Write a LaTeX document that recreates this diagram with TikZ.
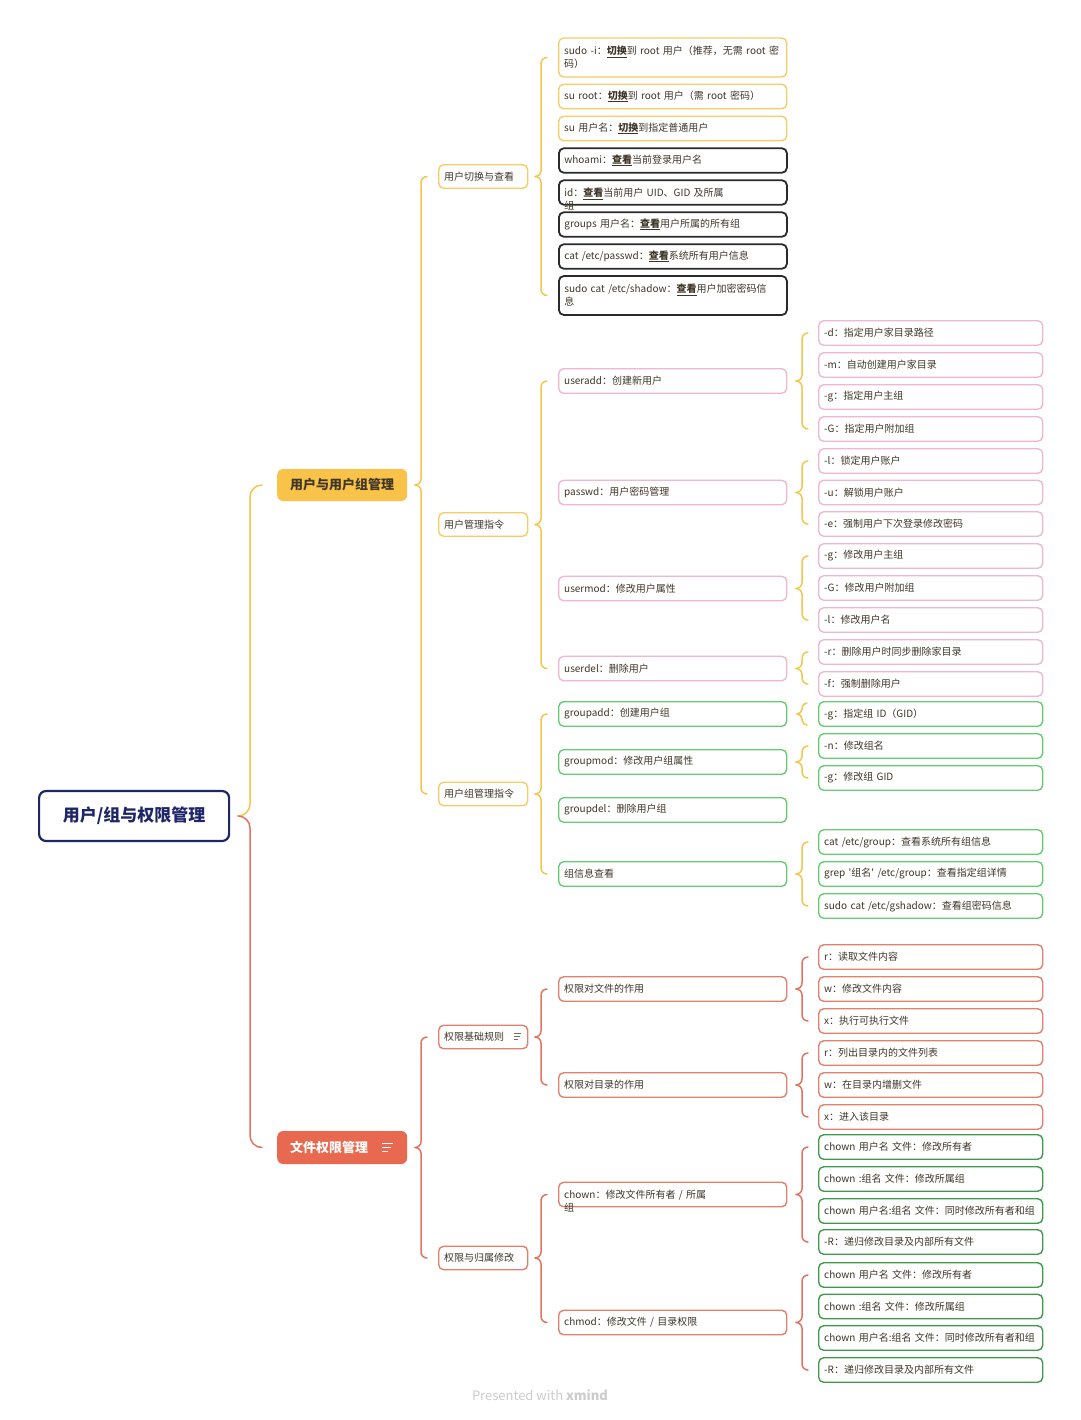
\documentclass[tikz,border=0pt]{standalone}
\usepackage{fontspec}
\setmainfont{Noto Sans CJK SC}
\newfontfamily\nqfont{Noto Sans CJK SC}
\usetikzlibrary{calc}
\definecolor{txt}{HTML}{3F3629}
\definecolor{yelB}{HTML}{F7CC66}
\definecolor{blkB}{HTML}{2A2A2A}
\definecolor{pinkB}{HTML}{F1B6D2}
\definecolor{grnB}{HTML}{66CC74}
\definecolor{redB}{HTML}{E2806E}
\definecolor{dgrnB}{HTML}{3F9A4C}
\definecolor{braceY}{HTML}{F5C54E}
\definecolor{braceR}{HTML}{E37460}
\definecolor{bonefill}{HTML}{F9C248}
\definecolor{btwofill}{HTML}{E8694F}
\definecolor{navy}{HTML}{1F2668}
\definecolor{foot}{HTML}{CCCCCC}
\definecolor{icon}{HTML}{7A6A60}
\newcommand\kw[1]{\underline{\textbf{#1}}}
\newcommand\sq{{\nqfont\char"27}}
\newcommand\ovf[2]{\raisebox{0pt}[\height][0pt]{\parbox[t]{205pt}{#1\\#2}}}
% half brace: parent, child, colour, d, t, r, yoff
\newcommand\bh[7]{%
  \draw[#3,cline,rounded corners=#6] let \p1=(#1.east), \p2=($(#2.west)+(0,#7)$) in
    (\x2-#4-#5,\y1) -- (\x2-#4,\y1) -- (\x2-#4,\y2) -- (\x2-#4+#6,\y2);}
% full brace: parent, top child, bottom child, colour, d, t, r
\newcommand\fb[7]{\bh{#1}{#2}{#4}{#5}{#6}{#7}{0}\bh{#1}{#3}{#4}{#5}{#6}{#7}{0}}
\begin{document}
\begin{tikzpicture}[x=1pt,y=-1pt,
  cline/.style={line width=1.5pt, line cap=round},
  box/.style={draw, fill=white, rounded corners=5pt, anchor=west, align=left,
    inner xsep=5.5pt, inner ysep=2pt, minimum height=24.5pt, text=txt,
    line width=1.4pt, font=\fontsize{10}{13}\selectfont},
  lthree/.style={box, text width=217pt},
  lfour/.style={box, text width=213pt},
  ltwo/.style={box, text width=78pt, minimum height=23.5pt, font=\fontsize{10}{13}\selectfont},
  yl/.style={draw=yelB}, bk/.style={draw=blkB, line width=1.8pt},
  pk/.style={draw=pinkB}, gn/.style={draw=grnB}, rd/.style={draw=redB}, dg/.style={draw=dgrnB},
  twoline/.style={minimum height=39pt},
]
\useasboundingbox (0,0) rectangle (1080,1420);
\fill[white] (0,0) rectangle (1080,1420);

% root and branches
\node[draw=navy, line width=2.2pt, rounded corners=7pt, fill=white, minimum width=190pt,
  minimum height=50pt, anchor=west, text=navy, font=\fontsize{17}{20}\selectfont\bfseries]
  (root) at (38,816) {用户/组与权限管理};
\node[fill=bonefill, rounded corners=6pt, minimum width=130pt, minimum height=32pt, anchor=west,
  text=txt, font=\fontsize{13}{16}\selectfont\bfseries] (b1) at (277,485) {用户与用户组管理};
\node[fill=btwofill, rounded corners=6pt, text width=104pt, inner xsep=13pt, align=left,
  minimum height=33pt, anchor=west, text=white, font=\fontsize{13}{16}\selectfont\bfseries]
  (b2) at (277,1147.5) {文件权限管理};
\draw[white, line width=1pt]
  ($(b2.east)+(-25,-4.5)$) -- ++(11,0)
  ($(b2.east)+(-25,-0.5)$) -- ++(9,0)
  ($(b2.east)+(-25,3.5)$) -- ++(6,0);

% level 2
\node[ltwo,yl] (u1) at (438,176.5) {用户切换与查看};
\node[ltwo,yl] (u2) at (438,524.5) {用户管理指令};
\node[ltwo,yl] (u3) at (438,794) {用户组管理指令};
\node[ltwo,rd] (f1) at (438,1037) {权限基础规则};
\node[ltwo,rd] (f2) at (438,1258) {权限与归属修改};
\draw[icon, line width=0.8pt]
  ($(f1.east)+(-14,-3.5)$) -- ++(7,0)
  ($(f1.east)+(-14,-0.5)$) -- ++(6,0)
  ($(f1.east)+(-14,2.5)$) -- ++(4,0);

% level 3 : user switch
\node[lthree,yl,twoline] (s1) at (558,57.5) {sudo~-i：\kw{切换}到~root~用户（推荐，无需~root~密\\码）};
\node[lthree,yl] (s2) at (558,96.5) {su~root：\kw{切换}到~root~用户（需~root~密码）};
\node[lthree,yl] (s3) at (558,128.5) {su~用户名：\kw{切换}到指定普通用户};
\node[lthree,bk] (s4) at (558,160.5) {whoami：\kw{查看}当前登录用户名};
\node[lthree,bk] (s5) at (558,192.5) {\ovf{id：\kw{查看}当前用户~UID、GID~及所属}{组}};
\node[lthree,bk] (s6) at (558,224.5) {groups~用户名：\kw{查看}用户所属的所有组};
\node[lthree,bk] (s7) at (558,256.5) {cat~/etc/passwd：\kw{查看}系统所有用户信息};
\node[lthree,bk,twoline] (s8) at (558,295.5) {sudo~cat~/etc/shadow：\kw{查看}用户加密密码信\\息};

% level 3 : user management
\node[lthree,pk] (ua) at (558,381) {useradd：创建新用户};
\node[lthree,pk] (pw) at (558,492.5) {passwd：用户密码管理};
\node[lthree,pk] (um) at (558,588.5) {usermod：修改用户属性};
\node[lthree,pk] (ud) at (558,668.5) {userdel：删除用户};

% level 3 : group management
\node[lthree,gn] (ga) at (558,714) {groupadd：创建用户组};
\node[lthree,gn] (gm) at (558,762) {groupmod：修改用户组属性};
\node[lthree,gn] (gd) at (558,810) {groupdel：删除用户组};
\node[lthree,gn] (gi) at (558,874) {组信息查看};

% level 3 : file permissions
\node[lthree,rd] (pf) at (558,989) {权限对文件的作用};
\node[lthree,rd] (pd) at (558,1085) {权限对目录的作用};
\node[lthree,rd] (co) at (558,1194.5) {\ovf{chown：修改文件所有者~/~所属}{组}};
\node[lthree,rd] (cm) at (558,1322.5) {chmod：修改文件~/~目录权限};

% level 4 : useradd
\node[lfour,pk] (a1) at (818,333) {-d：指定用户家目录路径};
\node[lfour,pk] (a2) at (818,365) {-m：自动创建用户家目录};
\node[lfour,pk] (a3) at (818,397) {-g：指定用户主组};
\node[lfour,pk] (a4) at (818,429) {-G：指定用户附加组};
% passwd
\node[lfour,pk] (p1) at (818,461) {-l：锁定用户账户};
\node[lfour,pk] (p2) at (818,492.5) {-u：解锁用户账户};
\node[lfour,pk] (p3) at (818,524) {-e：强制用户下次登录修改密码};
% usermod
\node[lfour,pk] (m1) at (818,556) {-g：修改用户主组};
\node[lfour,pk] (m2) at (818,588) {-G：修改用户附加组};
\node[lfour,pk] (m3) at (818,620) {-l：修改用户名};
% userdel
\node[lfour,pk] (d1) at (818,652) {-r：删除用户时同步删除家目录};
\node[lfour,pk] (d2) at (818,684) {-f：强制删除用户};
% groupadd
\node[lfour,gn] (g1) at (818,714) {-g：指定组~ID（GID）};
% groupmod
\node[lfour,gn] (h1) at (818,746) {-n：修改组名};
\node[lfour,gn] (h2) at (818,778) {-g：修改组~GID};
% group info
\node[lfour,gn] (i1) at (818,842) {cat~/etc/group：查看系统所有组信息};
\node[lfour,gn] (i2) at (818,874) {grep~\sq 组名\sq{}~/etc/group：查看指定组详情};
\node[lfour,gn] (i3) at (818,906) {sudo~cat~/etc/gshadow：查看组密码信息};
% file
\node[lfour,rd] (r1) at (818,957) {r：读取文件内容};
\node[lfour,rd] (r2) at (818,989) {w：修改文件内容};
\node[lfour,rd] (r3) at (818,1021) {x：执行可执行文件};
% directory
\node[lfour,rd] (q1) at (818,1053) {r：列出目录内的文件列表};
\node[lfour,rd] (q2) at (818,1085) {w：在目录内增删文件};
\node[lfour,rd] (q3) at (818,1117) {x：进入该目录};
% chown
\node[lfour,dg] (c1) at (818,1147) {chown~用户名~文件：修改所有者};
\node[lfour,dg] (c2) at (818,1179) {chown~:组名~文件：修改所属组};
\node[lfour,dg] (c3) at (818,1211) {chown~用户名:组名~文件：同时修改所有者和组};
\node[lfour,dg] (c4) at (818,1242) {-R：递归修改目录及内部所有文件};
% chmod
\node[lfour,dg] (k1) at (818,1275) {chown~用户名~文件：修改所有者};
\node[lfour,dg] (k2) at (818,1306.5) {chown~:组名~文件：修改所属组};
\node[lfour,dg] (k3) at (818,1338) {chown~用户名:组名~文件：同时修改所有者和组};
\node[lfour,dg] (k4) at (818,1370) {-R：递归修改目录及内部所有文件};

% braces
\bh{root}{b1}{braceY}{27}{12}{12}{0}
\bh{root}{b2}{braceR}{27}{12}{12}{0}
\fb{b1}{u1}{u3}{braceY}{17}{6}{6}
\fb{b2}{f1}{f2}{braceR}{17}{6}{6}
\fb{u1}{s1}{s8}{braceY}{17}{6}{6}
\fb{u2}{ua}{ud}{braceY}{17}{6}{6}
\fb{u3}{ga}{gi}{braceY}{17}{6}{6}
\fb{f1}{pf}{pd}{braceR}{17}{6}{6}
\fb{f2}{co}{cm}{braceR}{17}{6}{6}
\fb{ua}{a1}{a4}{braceY}{16}{6}{6}
\fb{pw}{p1}{p3}{braceY}{16}{6}{6}
\fb{um}{m1}{m3}{braceY}{16}{6}{6}
\fb{ud}{d1}{d2}{braceY}{16}{6}{6}
\bh{ga}{g1}{braceY}{16}{5}{5}{-11}
\bh{ga}{g1}{braceY}{16}{5}{5}{11}
\fb{gm}{h1}{h2}{braceY}{16}{6}{6}
\fb{gi}{i1}{i3}{braceY}{16}{6}{6}
\fb{pf}{r1}{r3}{braceR}{16}{6}{6}
\fb{pd}{q1}{q3}{braceR}{16}{6}{6}
\fb{co}{c1}{c4}{braceR}{16}{6}{6}
\fb{cm}{k1}{k4}{braceR}{16}{6}{6}

% footer
\node[text=foot, font=\fontsize{13}{15}\selectfont] (foot) at (540,1395) {Presented with \textbf{xmind}};
\end{tikzpicture}
\end{document}
